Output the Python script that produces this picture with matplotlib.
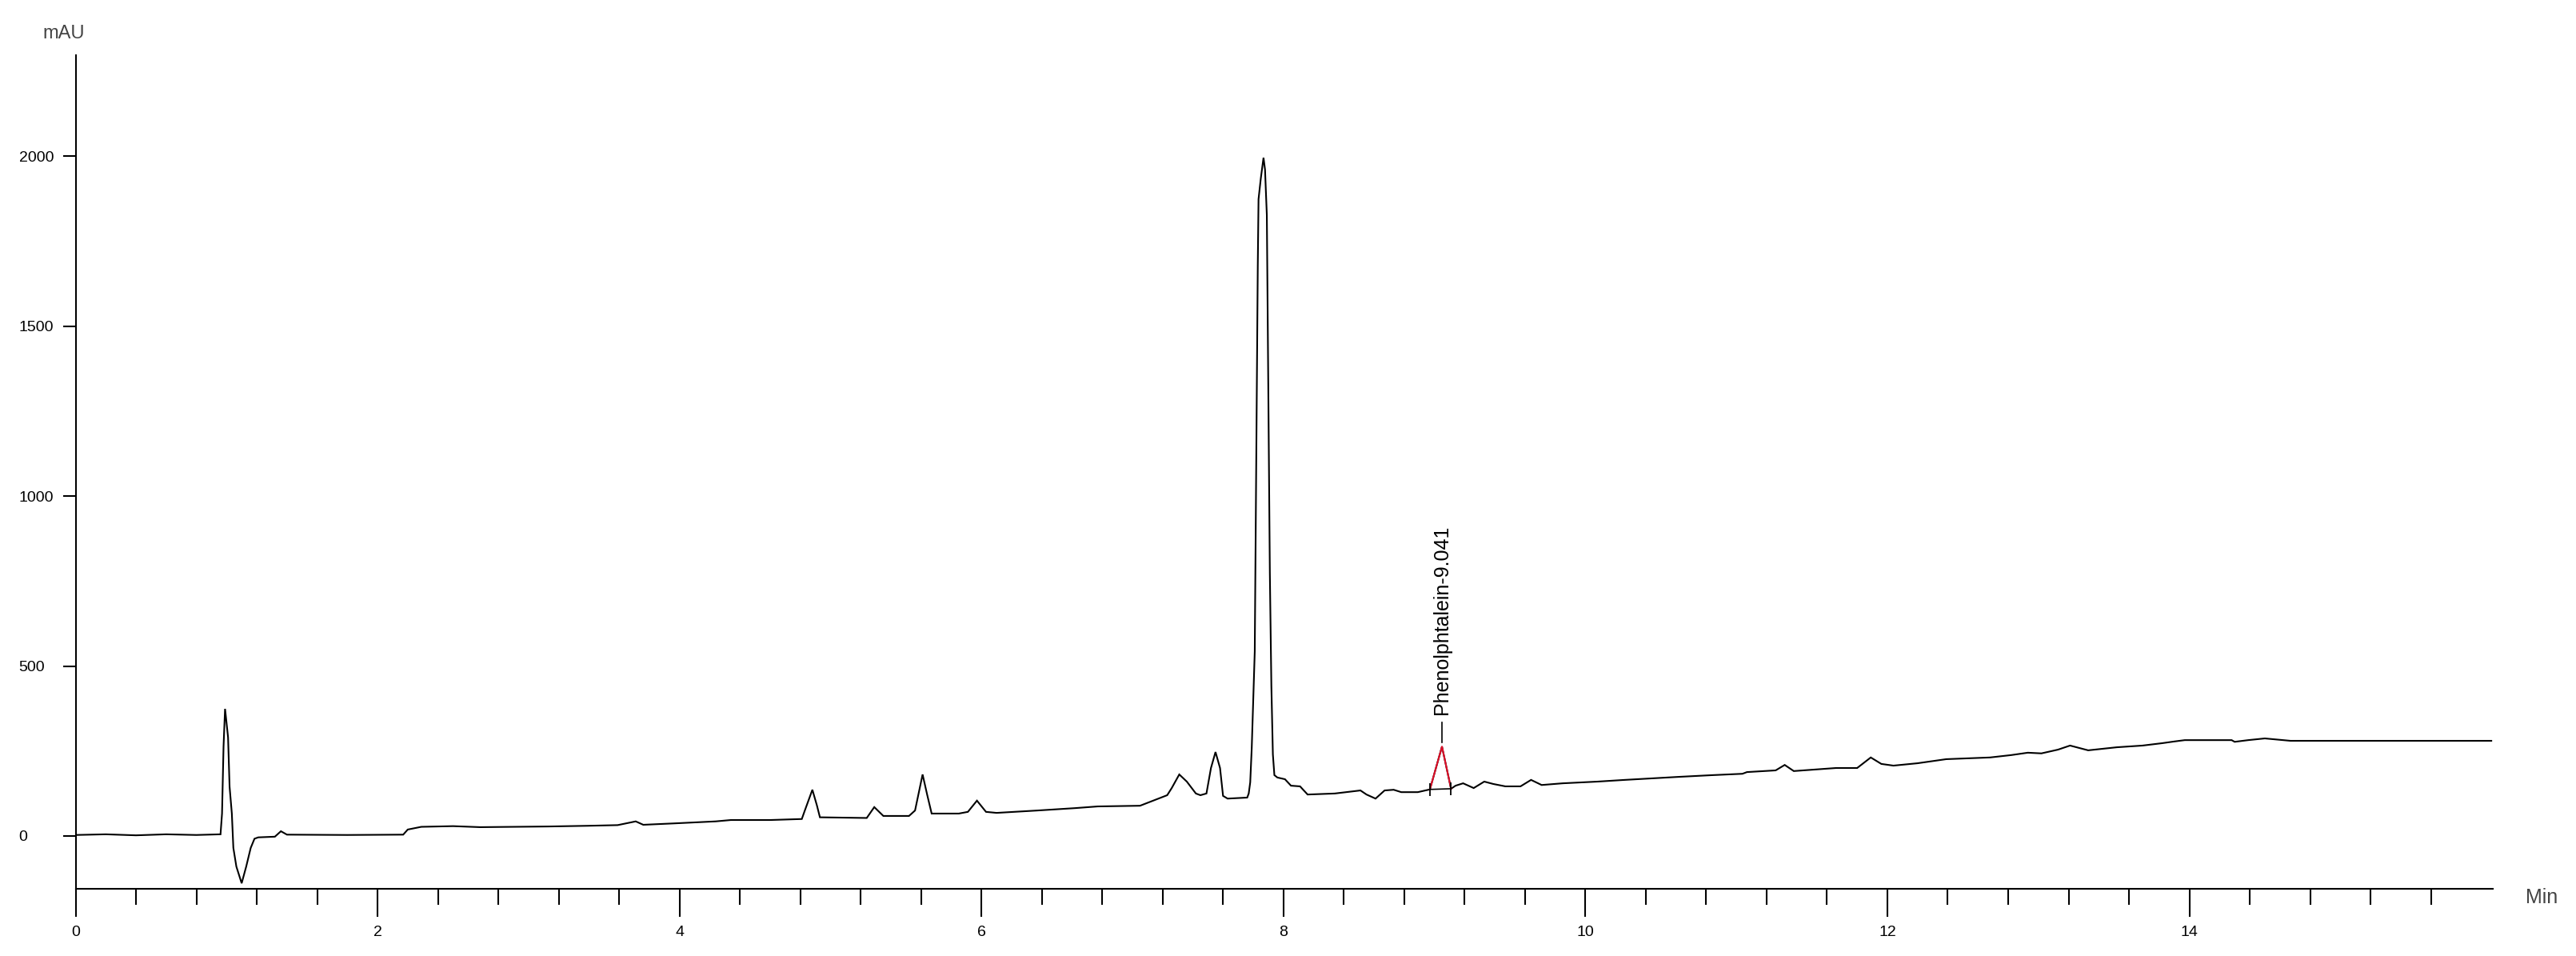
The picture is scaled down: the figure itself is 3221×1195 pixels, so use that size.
import matplotlib
matplotlib.use("Agg")
import matplotlib.pyplot as plt
import numpy as np

# ---- data ----
time_min = [0.00, 0.20, 0.40, 0.60, 0.80, 0.96, 0.97, 0.98, 0.99, 1.01, 1.02, 1.035, 1.045,
            1.065, 1.10, 1.13, 1.16, 1.185, 1.21, 1.32, 1.36, 1.40, 1.80, 2.17, 2.20, 2.29,
            2.50, 2.68, 3.13, 3.39, 3.59, 3.71, 3.76, 3.96, 4.24, 4.34, 4.60, 4.81, 4.83,
            4.88, 4.91, 4.93, 5.24, 5.29, 5.35, 5.52, 5.56, 5.61, 5.64, 5.67, 5.85, 5.91,
            5.97, 6.03, 6.10, 6.37, 6.62, 6.77, 7.05, 7.12, 7.23, 7.26, 7.31, 7.36, 7.42,
            7.45, 7.49, 7.52, 7.55, 7.58, 7.60, 7.63, 7.76, 7.77, 7.78, 7.79, 7.81, 7.82,
            7.83, 7.835, 7.85, 7.86, 7.868, 7.878, 7.89, 7.90, 7.91, 7.92, 7.93, 7.94, 7.96,
            8.01, 8.05, 8.11, 8.16, 8.34, 8.51, 8.55, 8.61, 8.67, 8.73, 8.78, 8.89, 8.97,
            9.05, 9.11, 9.14, 9.19, 9.26, 9.33, 9.39, 9.47, 9.57, 9.64, 9.71, 9.85, 10.08,
            10.26, 10.42, 10.62, 10.84, 11.04, 11.07, 11.26, 11.32, 11.38, 11.66, 11.80,
            11.89, 11.96, 12.04, 12.20, 12.39, 12.68, 12.82, 12.93, 13.02, 13.13, 13.21,
            13.33, 13.52, 13.69, 13.82, 13.90, 13.97, 14.28, 14.30, 14.39, 14.50, 14.67,
            15.07, 16.00]
signal_mau = [3, 5, 2, 5, 3, 5, 66, 263, 374, 290, 145, 66, -35,
              -90, -139, -90, -35, -8, -4, -2, 14, 4, 3, 4, 19, 27,
              29, 26, 28, 30, 32, 43, 33, 37, 43, 47, 47, 50, 75,
              136, 90, 55, 53, 85, 59, 59, 75, 181, 122, 66, 66, 71,
              104, 71, 68, 75, 82, 87, 89, 101, 120, 141, 181, 160, 125,
              120, 125, 200, 247, 200, 118, 110, 113, 125, 158, 259, 543, 1125,
              1678, 1873, 1934, 1967, 1995, 1960, 1826, 1299, 772, 442, 240, 179, 172,
              167, 148, 146, 122, 125, 134, 122, 110, 134, 136, 129, 129, 137,
              263, 139, 148, 155, 141, 160, 153, 146, 146, 165, 150, 155, 160,
              165, 169, 174, 179, 183, 188, 193, 209, 191, 200, 200,
              231, 212, 207, 214, 226, 231, 238, 245, 243, 254, 266,
              252, 261, 266, 273, 278, 282, 282, 277, 282, 287, 280,
              280, 280]

peak_name = "Phenolphtalein"
peak_rt = 9.041
peak_start = 8.97
peak_end = 9.11

x_major_ticks = [0, 2, 4, 6, 8, 10, 12, 14]
y_ticks = [0, 500, 1000, 1500, 2000]

# ---- figure ----
W, H = 3221, 1195
fig = plt.figure(figsize=(W / 100, H / 100), dpi=100)
ax = fig.add_axes([94.5 / W, (H - 1111) / H, (3117 - 94.5) / W, (1111 - 69) / H])
ax.set_facecolor("white")

t = np.array(time_min)
s = np.array(signal_mau)
ax.plot(t, s, color="black", lw=1.5, solid_joinstyle="miter", zorder=3)

# integrated peak (red) with its baseline
m = (t >= peak_start) & (t <= peak_end)
ax.plot(t[m], s[m], color="#e0102a", lw=1.5, zorder=4)
ax.plot([t[m][0], t[m][-1]], [s[m][0], s[m][-1]], color="black", lw=1.2, zorder=4)
ax.plot([t[m][0], t[m][-1]], [s[m][0], s[m][-1]], ls="none", marker="|",
        markersize=12, mew=1.3, color="black", zorder=4)

# peak label
top = s[m].max()
ax.plot([peak_rt + 0.01, peak_rt + 0.01], [top + 12, top + 71], color="black", lw=1.2)
ax.text(peak_rt + 0.01, top + 95, f"{peak_name}-{peak_rt:.3f}", rotation=90,
        ha="center", va="bottom", fontsize=18, family="Liberation Sans", color="black")

ax.set_xlim(0, 16.01)
ax.set_ylim(-155.3, 2296.5)

for side in ["top", "right"]:
    ax.spines[side].set_visible(False)
for side in ["left", "bottom"]:
    ax.spines[side].set_linewidth(1.5)
    ax.spines[side].set_color("black")

ax.set_xticks(x_major_ticks)
ax.set_xticks(np.arange(0, 15.7, 0.4), minor=True)
ax.set_xticklabels([str(v) for v in x_major_ticks])
ax.tick_params(axis="x", which="major", length=25, width=1.5, pad=8,
               labelsize=14, colors="black")
ax.tick_params(axis="x", which="minor", length=14.5, width=1.5)

ax.set_yticks(y_ticks)
ax.set_yticklabels([str(v) for v in y_ticks])
ax.tick_params(axis="y", which="major", length=11.5, width=1.5, pad=39.5,
               labelsize=14, colors="black")
for lbl in ax.get_yticklabels():
    lbl.set_horizontalalignment("left")
for lbl in ax.get_xticklabels() + ax.get_yticklabels():
    lbl.set_family("Liberation Sans")

fig.text(80 / W, 1 - 42 / H, "mAU", ha="center", va="center", fontsize=17,
         family="Liberation Sans", color="#444444")
fig.text(3178 / W, 1 - 1122 / H, "Min", ha="center", va="center", fontsize=18,
         family="Liberation Sans", color="#444444")

fig.savefig("out.png", dpi=100, facecolor="white")
